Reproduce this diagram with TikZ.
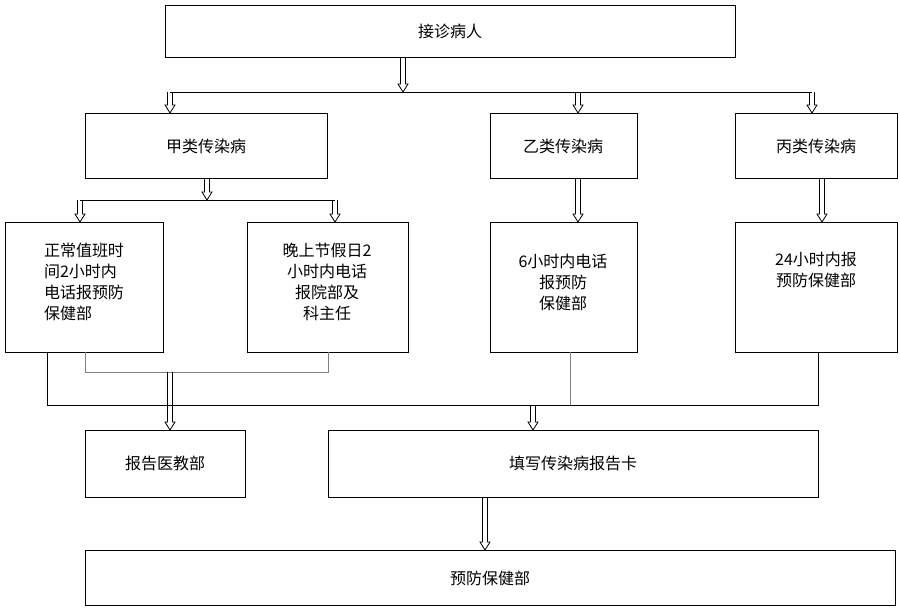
\documentclass[tikz,border=0pt]{standalone}
\usepackage{fontspec}
\setmainfont{Noto Sans CJK SC}
\begin{document}
\begin{tikzpicture}[x=1pt,y=-1pt,
  box/.style={draw,line width=1pt,inner sep=0pt},
  lbl/.style={font=\fontsize{16}{21}\selectfont,align=center},
  ln/.style={draw,line width=0.9pt}]
\def\hollowarr#1#2#3{%
  \draw[line width=0.8pt] (#1-2.5,#2) -- (#1-2.5,#3-8) -- (#1-5,#3-8) -- (#1,#3) -- (#1+5,#3-8) -- (#1+2.5,#3-8) -- (#1+2.5,#2);}
\useasboundingbox (0,0) rectangle (900,608);
\draw[box] (165,5) rectangle (735,57); \node[lbl] (a) at (450,31) {接诊病人};
\draw[box] (85,113) rectangle (327,178); \node[lbl] (j) at (206,146) {甲类传染病};
\draw[box] (490,113) rectangle (637,178); \node[lbl] (y) at (563,146) {乙类传染病};
\draw[box] (735,113) rectangle (897,178); \node[lbl] (b) at (816,146) {丙类传染病};
\draw[box] (5,222) rectangle (163,352); \node[lbl,align=left] (b1) at (84,282) {正常值班时\\间2小时内\\电话报预防\\保健部};
\draw[box] (247,222) rectangle (408,352); \node[lbl] (b2) at (327,282) {晚上节假日2\\小时内电话\\报院部及\\科主任};
\draw[box] (490,222) rectangle (637,352); \node[lbl] (b3) at (563,282) {6小时内电话\\报预防\\保健部};
\draw[box] (735,222) rectangle (897,352); \node[lbl] (b4) at (816,270) {24小时内报\\预防保健部};
\draw[box] (85,430) rectangle (245,497); \node[lbl] (r) at (165,463) {报告医教部};
\draw[box] (328,430) rectangle (818,497); \node[lbl] (f) at (573,463) {填写传染病报告卡};
\draw[box] (85,550) rectangle (895,605); \node[lbl] (p) at (490,578) {预防保健部};
\hollowarr{403}{57}{92}
\draw[ln] (170,92) -- (812,92);
\hollowarr{170}{92}{113}
\hollowarr{578}{92}{113}
\hollowarr{812}{92}{113}
\hollowarr{207}{178}{200}
\draw[ln] (80,200) -- (335,200);
\hollowarr{80}{200}{222}
\hollowarr{335}{200}{222}
\hollowarr{578}{178}{222}
\hollowarr{822}{178}{222}
\draw[ln] (47,352) -- (47,405) -- (818,405) -- (818,352);
\draw[gray,line width=0.8pt] (570,352) -- (570,405);
\draw[gray,line width=0.8pt] (85,352) -- (85,372) -- (328,372) -- (328,352);
\hollowarr{170}{372}{430}
\hollowarr{533}{405}{430}
\hollowarr{485}{497}{550}
\end{tikzpicture}
\end{document}
